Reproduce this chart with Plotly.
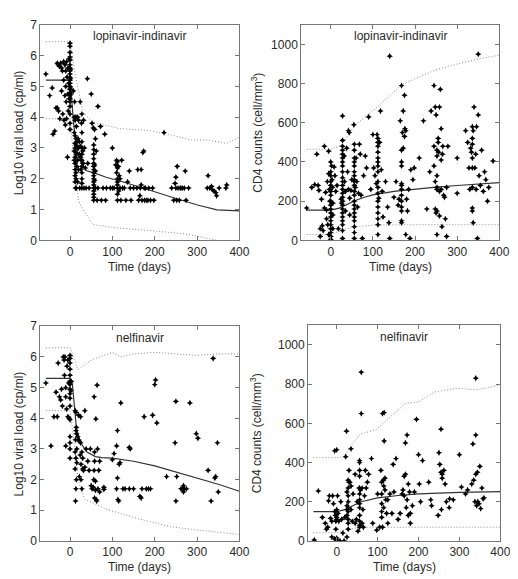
import plotly.graph_objects as go

# ---------------- DATA ----------------
panel_titles = ["lopinavir-indinavir", "lopinavir-indinavir", "nelfinavir", "nelfinavir"]
x_ticks = [0, 100, 200, 300, 400]
vl_ticks = [0, 1, 2, 3, 4, 5, 6, 7]
cd4_ticks = [0, 200, 400, 600, 800, 1000]

# Panel 1: lopinavir-indinavir viral load (day, log10 VL)
lpv_vl_points = [
    (-57,5.4),(-48,4.7),(-42,4.95),(-40,3.45),(-36,3.55),(-33,4.3),(-30,4.3),(-30,5.75),(-28,5.7),(-27,4.2),
    (-25,5.65),(-24,3.95),(-22,5.75),(-20,5.6),(-20,4.85),(-18,5.5),(-17,4.1),(-15,5.8),(-15,5.2),(-14,3.9),
    (-12,5.7),(-12,4.7),(-11,3.75),(-10,5.5),(-10,5.0),(-9,4.5),(-8,5.8),(-8,3.95),(-7,5.3),(-6,2.7),
    (-5,5.6),(-5,4.75),(-4,4.2),(-3,5.1),(-2,5.9),(-2,4.6),
    (0,6.4),(0,6.3),(0,6.1),(0,5.95),(0,5.85),(0,5.7),(0,5.6),(0,5.5),(0,5.4),(0,5.3),(0,5.2),(0,5.1),
    (0,5.0),(0,4.9),(0,4.8),(0,4.7),(0,4.6),(0,4.5),(0,4.35),(0,4.1),(0,3.8),(0,3.6),(1,5.55),(1,5.25),(1,4.95),(2,4.75),
    (8,4.85),(10,4.0),(10,3.5),(10,2.9),(10,2.6),(11,4.5),(12,3.9),(12,3.4),(12,3.15),(12,3.0),(12,2.7),(12,2.5),
    (12,2.3),(12,2.1),(12,1.9),(13,1.7),(14,4.0),(14,3.3),(14,3.1),(14,2.85),(14,2.6),(14,2.2),(14,2.0),(15,3.7),
    (15,2.8),(15,1.7),(16,3.2),(16,2.4),(17,3.0),(18,4.0),(18,2.6),(18,1.9),(19,3.3),
    (20,3.9),(20,3.0),(20,2.3),(22,2.8),(22,3.2),(23,1.7),(24,4.5),(25,3.05),(25,2.7),(26,2.3),(27,3.8),(28,4.1),
    (28,3.5),(28,3.2),(28,3.0),(28,2.8),(28,2.6),(28,2.4),(28,2.2),(28,2.0),(28,1.85),(28,1.7),(30,2.9),(31,2.5),
    (32,3.9),(33,1.7),(34,3.0),(36,2.35),(38,1.7),(41,5.25),(42,2.5),(45,1.7),(50,4.75),(52,3.8),
    (55,3.65),(56,3.1),(56,2.95),(56,2.8),(56,2.65),(56,2.5),(56,2.4),(56,2.3),(56,2.2),(56,2.1),(56,2.0),(56,1.9),
    (56,1.8),(56,1.7),(56,1.6),(56,1.5),(56,1.4),(56,1.3),(58,3.6),(58,2.45),(58,1.95),(60,3.3),(60,2.25),(60,1.7),
    (62,2.9),(64,1.3),(66,4.35),(66,1.7),(72,3.7),(74,1.3),(78,1.7),(82,3.45),(84,1.3),(86,1.7),(95,1.7),(100,3.0),
    (100,1.7),(104,1.7),
    (108,2.45),(110,2.6),(110,2.2),(112,2.55),(112,2.35),(112,2.0),(112,1.9),(112,1.8),(112,1.7),(112,1.5),(112,1.3),
    (114,2.4),(115,1.6),(116,2.1),(118,2.0),(118,1.7),(120,1.3),(122,2.6),(124,1.7),(128,1.7),(132,1.3),(136,1.9),
    (140,2.25),(142,1.7),(144,1.3),(150,1.7),(158,1.7),(160,2.3),(162,1.3),(165,1.45),(166,1.7),(168,2.3),(168,1.8),
    (170,1.3),(172,2.85),(174,2.9),(175,1.7),(176,1.3),(178,1.7),(180,1.3),(184,1.3),(186,1.7),(190,1.3),(195,1.7),
    (198,1.3),(222,3.5),(240,1.7),(245,1.3),(248,1.85),(250,2.05),(250,1.7),(252,1.3),(253,2.4),(255,1.7),(258,1.3),
    (260,1.7),(262,1.7),(266,1.7),(270,1.7),(272,2.25),(274,1.3),(280,1.7),
    (324,1.7),(326,2.1),(330,1.7),(334,1.75),(336,1.65),(340,1.6),(344,1.55),(346,1.45),(352,1.7),(368,1.7),(370,1.8),
]
lpv_vl_med_day = [-57, 0, 4, 8, 14, 19, 28, 39, 56, 85, 120, 162, 200, 239, 270, 301, 347, 400]
lpv_vl_med_val = [5.2, 5.2, 4.6, 3.84, 3.2, 2.73, 2.45, 2.26, 2.2, 2.05, 1.92, 1.73, 1.58, 1.41, 1.28, 1.15, 0.99, 0.96]
lpv_vl_hi_day = [-57, 0, 12, 31, 54, 116, 185, 239, 286, 324, 370, 400]
lpv_vl_hi_val = [6.45, 6.45, 5.4, 4.15, 3.84, 3.63, 3.57, 3.42, 3.26, 3.26, 3.15, 3.35]
lpv_vl_lo_day = [-57, 0, 10, 20, 31, 54, 100, 162, 220, 278, 347, 400]
lpv_vl_lo_val = [3.95, 3.95, 2.5, 1.3, 0.99, 0.52, 0.42, 0.36, 0.28, 0.2, 0.0, -0.15]

# Panel 2: lopinavir-indinavir CD4 counts
lpv_cd4_points = [
    (-57,165),(-45,270),(-38,285),(-33,440),(-30,280),(-28,255),(-25,60),(-25,20),(-22,210),(-20,75),(-18,50),
    (-15,480),(-15,165),(-12,245),(-10,155),(-10,110),(-8,300),(-7,80),(-5,455),(-5,340),(-5,30),(-3,260),(-2,200),
    (0,400),(0,350),(0,330),(0,300),(0,280),(0,250),(0,230),(0,200),(0,180),(0,160),(0,140),(0,120),(0,100),(0,80),
    (0,60),(0,40),(0,20),(0,5),(2,380),(3,310),(4,270),(5,190),(5,130),(5,60),(8,375),(10,330),(12,250),(15,280),(18,60),
    (25,210),(26,190),(28,635),(28,510),(28,480),(28,460),(28,440),(28,420),(28,400),(28,380),(28,350),(28,320),
    (28,300),(28,280),(28,260),(28,240),(28,220),(28,200),(28,180),(28,160),(28,140),(28,120),(28,100),(28,80),
    (28,50),(28,10),(32,430),(33,300),(35,250),(35,150),(38,470),(40,350),(42,260),(42,560),(44,550),(45,215),
    (45,130),(48,255),(50,310),
    (55,590),(56,490),(56,460),(56,420),(56,400),(56,380),(56,350),(56,330),(56,310),(56,300),(56,280),(56,250),
    (56,230),(56,200),(56,180),(56,160),(56,140),(56,120),(56,100),(56,70),(56,40),(56,10),(58,270),(60,420),
    (62,300),(64,170),(66,240),(68,490),(70,440),(72,230),(75,10),(78,330),(82,430),(85,370),(90,630),(95,260),
    (100,540),(102,370),(105,330),(108,290),(110,540),(112,520),(112,500),(112,480),(112,450),(112,420),(112,400),
    (112,380),(112,350),(112,300),(112,270),(112,240),(112,200),(112,170),(112,140),(112,110),(112,80),(112,30),
    (114,215),(116,500),(118,660),(120,360),(122,250),(124,120),(130,300),(135,170),(138,90),(140,940),(140,10),
    (150,220),(155,300),(160,180),(162,210),
    (165,610),(168,790),(168,460),(168,400),(168,380),(168,290),(168,280),(168,260),(168,230),(168,200),(168,170),
    (168,150),(168,100),(168,90),(170,550),(172,660),(172,470),(175,740),(175,530),(176,570),(178,560),(178,30),
    (180,210),(182,150),(185,260),(188,10),(190,360),(195,310),(198,370),(210,420),(220,610),(228,160),(235,350),
    (238,660),(245,790),(245,480),(245,380),(248,680),(248,300),(248,160),(250,640),(250,140),(252,460),(252,430),
    (252,330),(252,270),(252,260),(252,150),(252,30),(255,520),(255,500),(256,450),(258,680),(258,250),(258,125),
    (260,770),(262,570),(262,410),(262,260),(264,70),(265,440),(266,480),(268,230),(270,220),(272,110),(275,20),
    (275,270),(278,480),(300,420),(300,240),(320,560),(325,500),(328,370),(330,260),(332,470),(334,450),(336,580),
    (336,520),(336,490),(336,420),(336,370),(336,270),(336,150),(336,165),(338,560),(338,90),(340,680),(342,370),
    (344,440),(345,260),(346,580),(348,10),(350,950),(350,640),(352,330),(355,280),(358,460),(362,250),(365,350),
    (368,310),(372,200),(375,270),(385,405),
]
lpv_cd4_med_day = [-57, 0, 20, 40, 60, 80, 100, 150, 200, 250, 300, 350, 400]
lpv_cd4_med_val = [155, 155, 165, 185, 205, 220, 232, 250, 262, 272, 280, 287, 295]
lpv_cd4_hi_day = [-57, 0, 26, 57, 100, 140, 169, 200, 250, 300, 350, 400]
lpv_cd4_hi_val = [465, 465, 487, 587, 660, 740, 795, 825, 870, 900, 925, 945]
lpv_cd4_lo_day = [-57, 0, 30, 60, 100, 200, 400]
lpv_cd4_lo_val = [30, 30, 55, 70, 78, 80, 80]

# Panel 3: nelfinavir viral load
nfv_vl_points = [
    (-57,5.15),(-45,3.1),(-38,4.05),(-33,4.85),(-30,4.05),(-28,5.8),(-25,4.7),(-22,4.6),(-20,4.95),(-18,4.4),
    (-16,6.0),(-14,5.9),(-13,5.4),(-12,6.0),(-10,5.0),(-10,4.7),(-10,3.1),(-8,4.3),(-7,5.7),(-5,5.9),(-5,4.05),
    (-3,5.15),(-2,4.0),(0,6.05),(0,5.95),(0,5.8),(0,5.6),(0,5.4),(0,5.2),(0,5.1),(0,4.95),(0,4.8),(0,4.65),(0,4.4),
    (0,3.95),(0,3.4),(0,3.2),(0,3.0),(0,2.7),(3,5.2),(2,4.9),
    (12,4.25),(14,4.2),(15,3.7),(14,3.6),(13,3.3),(15,3.5),(16,3.0),(12,2.9),(14,2.7),(16,2.55),(12,2.35),(15,2.0),
    (14,1.7),(13,1.3),(18,3.4),(20,3.3),
    (20,4.1),(25,4.05),(22,3.25),(25,3.2),(28,2.9),(24,2.8),(26,2.5),(22,2.1),(26,2.0),(30,2.7),(30,2.35),(28,1.7),
    (32,2.3),(35,2.4),(35,4.25),(38,3.0),
    (42,2.6),(45,2.3),(48,3.0),(50,1.8),(52,1.7),(55,1.75),(56,2.0),(57,2.3),(58,1.4),(58,2.6),(58,2.9),(60,1.65),
    (60,1.95),(62,1.35),(63,1.3),(57,4.7),(61,3.98),(64,5.08),(65,3.0),(66,1.7),(70,1.6),(70,2.6),(68,2.3),(80,1.75),
    (80,1.68),
    (100,2.65),(104,2.85),(110,3.1),(112,3.6),(110,1.7),(112,2.05),(113,1.35),(115,1.3),(116,2.5),(118,2.55),
    (120,4.5),(125,1.7),(130,1.7),(140,3.05),(142,3.0),(140,1.7),(150,1.7),(165,1.45),(168,1.4),(170,1.7),
    (175,4.05),(180,1.7),(185,1.7),(190,1.7),(195,4.1),(200,5.1),(202,5.25),(205,3.85),(228,2.1),(248,3.2),
    (250,4.55),(250,1.3),(252,2.1),(262,1.7),(268,1.8),(268,1.6),(270,1.7),(275,1.7),(265,1.7),(283,4.5),
    (298,3.5),(302,3.35),(326,2.3),(333,1.3),(338,5.95),(342,2.05),(344,2.1),(348,3.2),(350,1.6),
]
nfv_vl_med_day = [-57, 0, 5, 10, 15, 25, 40, 60, 75, 100, 150, 200, 250, 300, 350, 400]
nfv_vl_med_val = [5.3, 5.3, 5.2, 4.5, 3.7, 3.2, 2.9, 2.75, 2.72, 2.7, 2.6, 2.45, 2.25, 2.05, 1.85, 1.62]
nfv_vl_hi_day = [-57, 0, 19, 50, 100, 120, 150, 200, 250, 300, 350, 400]
nfv_vl_hi_val = [6.3, 6.3, 5.58, 5.9, 6.15, 6.0, 6.1, 6.15, 6.1, 6.05, 6.1, 6.1]
nfv_vl_lo_day = [-57, 0, 12, 19, 35, 85, 162, 239, 286, 347, 400]
nfv_vl_lo_val = [4.25, 4.25, 2.95, 1.99, 1.36, 1.04, 0.72, 0.46, 0.38, 0.3, 0.21]

# Panel 4: nelfinavir CD4 counts
nfv_cd4_points = [
    (-55,5),(-45,255),(-35,120),(-28,90),(-25,60),(-22,70),(-20,205),(-18,230),(-15,115),(-12,100),(-12,20),
    (-10,230),(-8,190),(-5,460),(-5,150),(-3,130),(-2,100),(-2,60),(0,465),(0,160),(0,120),(0,110),(0,15),(0,5),
    (-5,10),(2,230),(3,140),(5,100),(8,0),(10,200),(12,110),(15,40),(18,0),(20,120),(22,430),(24,560),(25,250),
    (25,180),(25,160),(25,130),(25,20),(28,310),(28,270),(28,230),(28,200),(28,170),(28,150),(28,110),(28,90),
    (28,60),(30,360),(30,300),(32,300),(35,470),(35,280),(35,160),(38,100),(40,240),(45,340),(45,90),(48,110),
    (50,200),(52,50),(55,270),(56,410),(56,400),(56,360),(56,330),(56,270),(56,240),(56,210),(56,190),(56,170),
    (56,130),(56,100),(56,80),(56,70),(58,260),(60,860),(60,650),(62,270),(62,90),(64,160),(65,70),(68,230),
    (70,360),(72,270),(75,300),(78,340),(85,420),(88,90),(98,55),(100,240),(105,70),(108,360),(110,300),(110,240),
    (110,190),(110,150),(110,120),(112,650),(112,70),(114,310),(115,280),(115,170),(116,655),(116,510),(118,320),
    (118,260),(120,210),(122,140),(125,90),(125,210),(130,240),(135,140),(138,390),(140,250),(145,420),(150,110),
    (155,140),(160,240),(162,260),(165,330),(165,230),(168,500),(168,340),(170,170),(172,540),(172,210),(175,290),
    (175,130),(178,250),(180,90),(180,140),(185,180),(190,250),(195,620),(200,440),(202,290),(205,200),(210,410),
    (225,300),(230,210),(232,180),(248,130),(250,450),(252,390),(255,570),(255,350),(256,160),(258,320),(258,340),
    (262,360),(265,290),(268,200),(275,170),(276,215),(285,210),(300,440),(305,275),(315,240),(320,260),(330,290),
    (333,495),(335,310),(338,200),(340,830),(340,540),(340,340),(342,180),(344,350),(345,200),(348,190),(350,380),
    (352,165),(355,270),(358,215),(360,220),
]
nfv_cd4_med_day = [-57, 0, 20, 40, 60, 100, 150, 200, 300, 400]
nfv_cd4_med_val = [150, 150, 160, 180, 200, 220, 232, 240, 248, 252]
nfv_cd4_hi_day = [-57, 0, 20, 29, 57, 97, 136, 168, 200, 240, 295, 343, 400]
nfv_cd4_hi_val = [425, 425, 430, 469, 544, 569, 643, 701, 710, 760, 779, 771, 796]
nfv_cd4_lo_day = [-57, 0, 25, 60, 100, 200, 400]
nfv_cd4_lo_val = [42, 42, 60, 70, 70, 70, 70]

# ---------------- FIGURE ----------------
W, H = 518, 579
FONT = "Liberation Sans, Arial, sans-serif"
TXT = "#2a2a2a"

# panel boxes in pixels: (left, right, top, bottom)
boxes = [(33, 236, 10, 231), (299, 501, 10, 231), (33, 236, 319, 539), (306, 502, 318, 539)]

panels = [
    (lpv_vl_points, lpv_vl_med_day, lpv_vl_med_val, lpv_vl_hi_day, lpv_vl_hi_val, lpv_vl_lo_day, lpv_vl_lo_val, "vl"),
    (lpv_cd4_points, lpv_cd4_med_day, lpv_cd4_med_val, lpv_cd4_hi_day, lpv_cd4_hi_val, lpv_cd4_lo_day, lpv_cd4_lo_val, "cd4"),
    (nfv_vl_points, nfv_vl_med_day, nfv_vl_med_val, nfv_vl_hi_day, nfv_vl_hi_val, nfv_vl_lo_day, nfv_vl_lo_val, "vl"),
    (nfv_cd4_points, nfv_cd4_med_day, nfv_cd4_med_val, nfv_cd4_hi_day, nfv_cd4_hi_val, nfv_cd4_lo_day, nfv_cd4_lo_val, "cd4"),
]

fig = go.Figure()
annotations = []
layout_axes = {}
DOT = "1px,2px"

for i, (pts, md, mv, hd, hv, ld, lv, kind) in enumerate(panels):
    n = i + 1
    xa = "x" if n == 1 else f"x{n}"
    ya = "y" if n == 1 else f"y{n}"
    l, r, t, b = boxes[i]
    xdom = [l / W, r / W]
    ydom = [1 - b / H, 1 - t / H]

    fig.add_trace(go.Scatter(x=hd, y=hv, mode="lines", xaxis=xa, yaxis=ya,
                             line=dict(color="#8a8a8a", width=1, dash=DOT), hoverinfo="skip"))
    fig.add_trace(go.Scatter(x=ld, y=lv, mode="lines", xaxis=xa, yaxis=ya,
                             line=dict(color="#8a8a8a", width=1, dash=DOT), hoverinfo="skip"))
    fig.add_trace(go.Scatter(x=md, y=mv, mode="lines", xaxis=xa, yaxis=ya,
                             line=dict(color="#333333", width=1.2), hoverinfo="skip"))
    fig.add_trace(go.Scatter(x=[p[0] for p in pts], y=[p[1] for p in pts], mode="markers",
                             xaxis=xa, yaxis=ya,
                             marker=dict(symbol="star-diamond", size=4.5, color="black", line=dict(width=0))))

    axcommon = dict(showgrid=False, zeroline=False, showline=True, linecolor="#777777", linewidth=1,
                    mirror="ticks", ticks="inside", ticklen=4, tickcolor="#777777",
                    tickfont=dict(family=FONT, size=12, color=TXT))
    xkey = "xaxis" if n == 1 else f"xaxis{n}"
    ykey = "yaxis" if n == 1 else f"yaxis{n}"
    layout_axes[xkey] = dict(domain=xdom, range=[-70, 400], tickvals=x_ticks, anchor=ya, **axcommon)
    if kind == "vl":
        layout_axes[ykey] = dict(domain=ydom, range=[0, 7], tickvals=vl_ticks, anchor=xa, **axcommon)
        ytitle = "Log10 viral load (cp/ml)"
        ytx = 11
    else:
        layout_axes[ykey] = dict(domain=ydom, range=[0, 1100], tickvals=cd4_ticks, anchor=xa, **axcommon)
        ytitle = "CD4 counts (cell/mm<sup>3</sup>)"
        ytx = 253

    annotations.append(dict(text=panel_titles[i], x=(l + r) / 2 / W, y=1 - (t + 12) / H,
                            xref="paper", yref="paper", showarrow=False, xanchor="center", yanchor="middle",
                            font=dict(family=FONT, size=12, color=TXT)))
    annotations.append(dict(text="Time (days)", x=(l + r) / 2 / W, y=1 - (b + 27) / H,
                            xref="paper", yref="paper", showarrow=False, xanchor="center", yanchor="middle",
                            font=dict(family=FONT, size=12, color=TXT)))
    annotations.append(dict(text=ytitle, x=ytx / W, y=1 - ((t + b) / 2) / H, textangle=-90,
                            xref="paper", yref="paper", showarrow=False, xanchor="center", yanchor="middle",
                            font=dict(family=FONT, size=12, color=TXT)))

fig.update_layout(width=W, height=H, margin=dict(l=0, r=0, t=0, b=0),
                  paper_bgcolor="white", plot_bgcolor="white", showlegend=False,
                  annotations=annotations, **layout_axes)

fig.write_html("out.html")
